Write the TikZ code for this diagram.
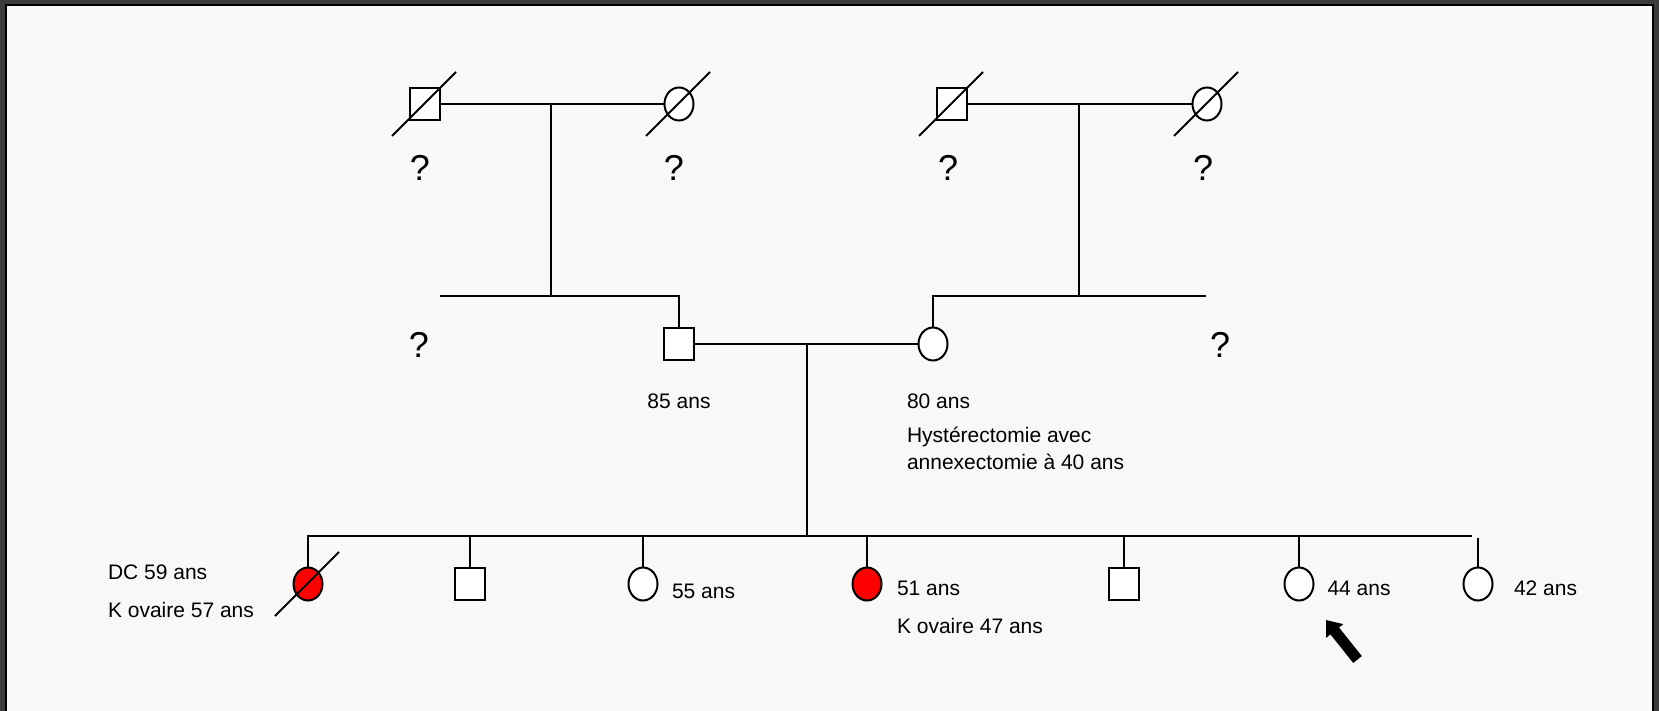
\documentclass[tikz,border=0pt]{standalone}
\usepackage{fontspec}
\setmainfont{Liberation Sans}
\usetikzlibrary{shapes.geometric,arrows.meta}
\definecolor{bgc}{HTML}{F8F8F8}
\definecolor{framegray}{HTML}{3B3B3B}
\definecolor{affred}{HTML}{FF0000}
\newcommand\deadslash[1]{\draw (#1.center) +(-33,32) -- +(31,-32);}
\begin{document}
\begin{tikzpicture}[x=1pt,y=-1pt,line width=2pt,
  male/.style={rectangle,draw,fill=white,minimum width=30pt,minimum height=32pt,inner sep=0pt},
  female/.style={ellipse,draw,fill=white,minimum width=29pt,minimum height=33pt,inner sep=0pt},
  aff/.style={fill=affred},
  lbl/.style={font=\fontsize{21}{25}\selectfont,inner sep=0pt,anchor=base west},
  lblc/.style={font=\fontsize{21}{25}\selectfont,inner sep=0pt,anchor=base},
  qm/.style={font=\fontsize{36}{40}\selectfont,inner sep=0pt}]
% frame and background
\fill[framegray] (0,0) rectangle (1659,711);
\fill[black] (5,4) rectangle (1654,711);
\fill[bgc] (6.7,5.7) rectangle (1652.3,711);
\useasboundingbox (0,0) rectangle (1659,711);

% generation I
\node[male]   (gf1) at (425,104) {};
\node[female] (gm1) at (679,104) {};
\node[male]   (gf2) at (952,104) {};
\node[female] (gm2) at (1207,104) {};
\draw (gf1.east) -- (gm1.west);
\draw (gf2.east) -- (gm2.west);
\deadslash{gf1}\deadslash{gm1}\deadslash{gf2}\deadslash{gm2}
\node[qm] (q1) at (420,167.5) {?};
\node[qm] (q2) at (674,167.5) {?};
\node[qm] (q3) at (948,167.5) {?};
\node[qm] (q4) at (1203,167.5) {?};

% generation II
\node[male]   (fa) at (679,344) {};
\node[female] (mo) at (933,344) {};
\coordinate (m1) at (551,104);
\coordinate (s1) at (551,296);
\coordinate (sl1) at (440,296);
\coordinate (m2) at (1079,104);
\coordinate (s2) at (1079,296);
\coordinate (sr2) at (1206,296);
\draw (m1) -- (s1);
\draw (sl1) -| (fa.north);
\draw (m2) -- (s2);
\draw (mo.north) |- (sr2);
\draw (fa.east) -- (mo.west);
\node[qm] (q5) at (419,345) {?};
\node[qm] (q6) at (1220,345) {?};
\node[lblc] (lfa) at (679,408.5) {85 ans};
\node[lbl] (lmo) at (906,408.5) {80 ans};
\node[lbl] (lmo2) at (906,442.5) {Hystérectomie avec};
\node[lbl] (lmo3) at (906,469) {annexectomie à 40 ans};

% generation III
\coordinate (m3) at (807,344);
\coordinate (s3) at (807,536);
\draw (m3) -- (s3);
\coordinate (sibL) at (307,536);
\coordinate (sibR) at (1472,536);
\draw (sibL) -- (sibR);
\node[female,aff] (c1) at (308,584) {};
\node[male]       (c2) at (470,584) {};
\node[female]     (c3) at (643,584) {};
\node[female,aff] (c4) at (867,584) {};
\node[male]       (c5) at (1124,584) {};
\node[female]     (c6) at (1299,584) {};
\node[female]     (c7) at (1478,584) {};
\coordinate (c7top) at (1478,538);
\foreach \c in {c1,c2,c3,c4,c5,c6}{\draw (\c.north) -- (\c.north |- sibL);}
\draw (c7.north) -- (c7top);
\deadslash{c1}

\node[lbl] (l1a) at (107,579.5) {DC 59 ans};
\node[lbl] (l1b) at (107,617.5) {K ovaire 57 ans};
\node[lbl] (l3) at (671,598.5) {55 ans};
\node[lbl] (l4a) at (896,595.5) {51 ans};
\node[lbl] (l4b) at (896,633) {K ovaire 47 ans};
\node[lbl] (l6) at (1326.5,595.5) {44 ans};
\node[lbl] (l7) at (1513,595.5) {42 ans};

% proband arrow
\coordinate (arT) at (1357.5,659.5);
\coordinate (arH) at (1326,620);
\draw[line width=11pt,-{Triangle[width=21pt,length=14pt]}] (arT) -- (arH);
\end{tikzpicture}
\end{document}
